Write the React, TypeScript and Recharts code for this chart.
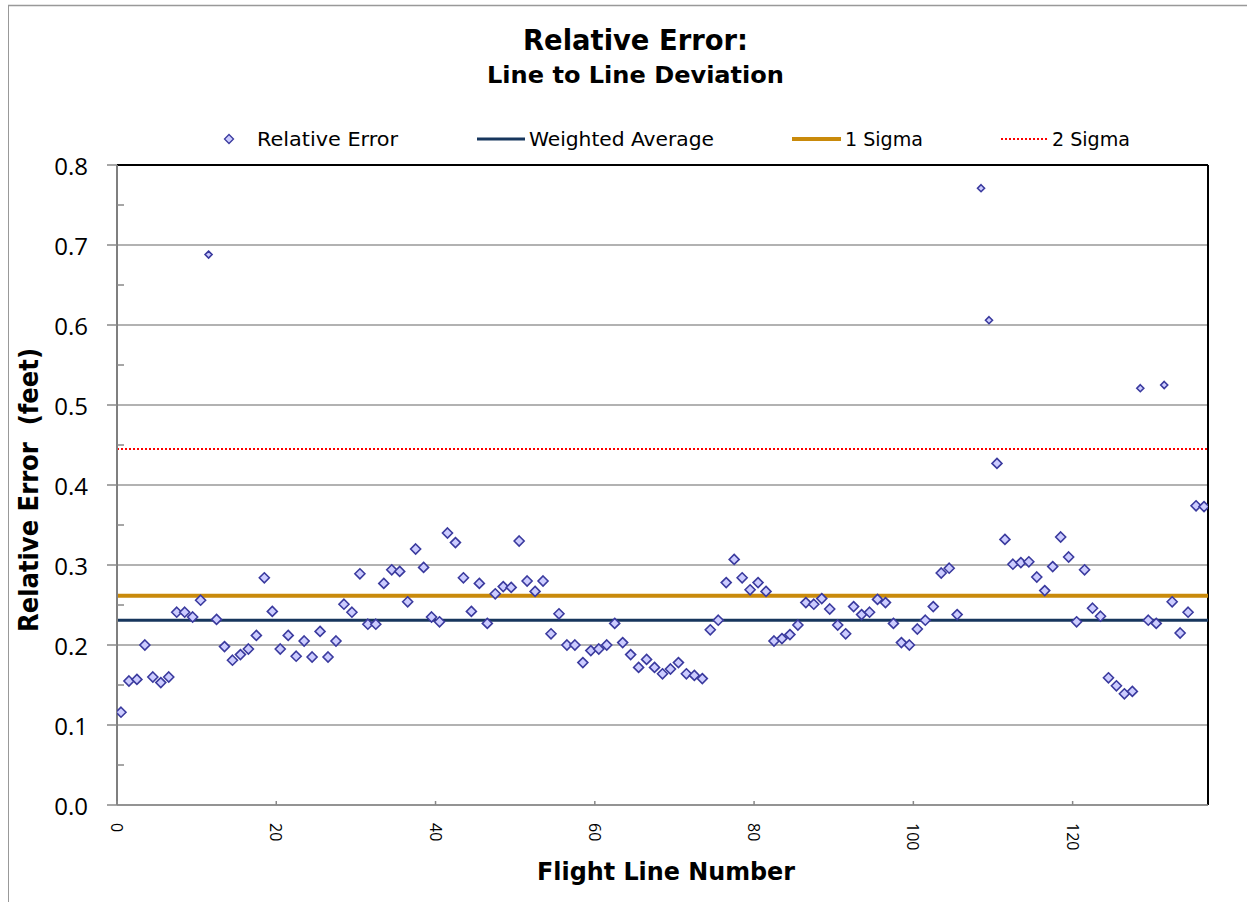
import React from "react";
import { ScatterChart, Scatter, XAxis, YAxis, CartesianGrid, ReferenceLine } from "recharts";

// flight line numbers (106 and 107 have no value)
const flightLines = [
  0, 1, 2, 3, 4, 5, 6, 7, 8, 9, 10, 11, 12, 13, 14, 15, 16, 17, 18, 19,
  20, 21, 22, 23, 24, 25, 26, 27, 28, 29, 30, 31, 32, 33, 34, 35, 36, 37, 38, 39,
  40, 41, 42, 43, 44, 45, 46, 47, 48, 49, 50, 51, 52, 53, 54, 55, 56, 57, 58, 59,
  60, 61, 62, 63, 64, 65, 66, 67, 68, 69, 70, 71, 72, 73, 74, 75, 76, 77, 78, 79,
  80, 81, 82, 83, 84, 85, 86, 87, 88, 89, 90, 91, 92, 93, 94, 95, 96, 97, 98, 99,
  100, 101, 102, 103, 104, 105, 108, 109, 110, 111, 112, 113, 114, 115, 116, 117, 118, 119,
  120, 121, 122, 123, 124, 125, 126, 127, 128, 129, 130, 131, 132, 133, 134, 135, 136,
];

const relativeError = [
  0.116, 0.155, 0.157, 0.2, 0.16, 0.153, 0.16, 0.241, 0.241, 0.235, 0.256, 0.688, 0.232, 0.198, 0.181, 0.188, 0.195, 0.212, 0.284, 0.242,
  0.195, 0.212, 0.186, 0.205, 0.185, 0.217, 0.185, 0.205, 0.251, 0.241, 0.289, 0.226, 0.226, 0.277, 0.294, 0.292, 0.254, 0.32, 0.297, 0.235,
  0.229, 0.34, 0.328, 0.284, 0.242, 0.277, 0.227, 0.264, 0.273, 0.272, 0.33, 0.28, 0.267, 0.28, 0.214, 0.239, 0.2, 0.2, 0.178, 0.193,
  0.195, 0.2, 0.227, 0.203, 0.188, 0.172, 0.182, 0.172, 0.164, 0.17, 0.178, 0.164, 0.162, 0.158, 0.219, 0.231, 0.278, 0.307, 0.284, 0.269,
  0.278, 0.267, 0.205, 0.208, 0.213, 0.225, 0.253, 0.251, 0.258, 0.245, 0.225, 0.214, 0.248, 0.238, 0.241, 0.257, 0.253, 0.227, 0.203, 0.2,
  0.22, 0.231, 0.248, 0.29, 0.296, 0.238, 0.771, 0.606, 0.427, 0.332, 0.301, 0.303, 0.304, 0.285, 0.268, 0.298, 0.335, 0.31,
  0.229, 0.294, 0.246, 0.236, 0.159, 0.149, 0.139, 0.142, 0.521, 0.231, 0.227, 0.525, 0.254, 0.215, 0.241, 0.374, 0.373,
];

// outliers drawn with a smaller marker
const outlierLines = [11, 108, 109, 128, 131];

const weightedAverage = 0.231;
const oneSigma = 0.2615;
const twoSigma = 0.445;

const xTicks = [0, 20, 40, 60, 80, 100, 120];
const yMajorTicks = [0, 0.1, 0.2, 0.3, 0.4, 0.5, 0.6, 0.7, 0.8];
const yMinorTicks = [0.05, 0.15, 0.25, 0.35, 0.45, 0.55, 0.65, 0.75];

const points = flightLines.map((line, i) => ({ line, y: relativeError[i] }));
const mainPoints = points.filter((p) => !outlierLines.includes(p.line));
const smallPoints = points.filter((p) => outlierLines.includes(p.line));

// excel category axis: each flight line sits in the middle of its slot
const slotCentre = (p: any) => p.line + 0.5;

const tickFont = "'Open Sans', sans-serif";
const labelFont = "'Liberation Sans Narrow', 'DejaVu Sans Condensed', 'DejaVu Sans', sans-serif";

const Diamond = (r: number) => (props: any) => {
  const { cx, cy } = props;
  if (cx == null || cy == null) return <g />;
  return (
    <path
      d={`M${cx},${cy - r}L${cx + r},${cy}L${cx},${cy + r}L${cx - r},${cy}Z`}
      fill="#ccccff"
      stroke="#3a3a9e"
      strokeWidth={1.6}
    />
  );
};

const YTick = (props: any) => {
  const { x, y, payload } = props;
  const v = payload.value as number;
  if (yMajorTicks.some((t) => Math.abs(t - v) < 1e-6)) {
    return (
      <g>
        <line x1={x - 10} x2={x} y1={y} y2={y} stroke="#888" strokeWidth={1.5} />
        <text x={x - 29} y={y} textAnchor="end" dominantBaseline="central" fontFamily={tickFont} fontSize={24} fill="#000">
          {v.toFixed(1)}
        </text>
      </g>
    );
  }
  return <line x1={x} x2={x + 7} y1={y} y2={y} stroke="#888" strokeWidth={1.5} />;
};

const XTick = (props: any) => {
  const { x, y, payload } = props;
  return (
    <g>
      <line x1={x} x2={x} y1={y} y2={y - 4} stroke="#888" strokeWidth={1.5} />
      <text
        x={x}
        y={y + 18}
        transform={`rotate(90, ${x}, ${y + 18})`}
        textAnchor="start"
        dominantBaseline="central"
        fontFamily={tickFont}
        fontSize={16}
        fill="#000"
      >
        {payload.value}
      </text>
    </g>
  );
};

export default function App() {
  return (
    <div style={{ position: "absolute", left: 0, top: 0, width: 1247, height: 902, background: "#fff", overflow: "hidden" }}>
      <ScatterChart width={1247} height={902} margin={{ top: 165, right: 39, bottom: 37, left: 0 }}>
        <CartesianGrid horizontal vertical={false} horizontalValues={yMajorTicks} stroke="#999" strokeWidth={1.5} />
        <XAxis
          type="number"
          dataKey={slotCentre}
          domain={[0, 137]}
          ticks={xTicks}
          interval={0}
          allowDataOverflow
          height={60}
          tickSize={0}
          tickMargin={0}
          tick={<XTick />}
          axisLine={{ stroke: "#888", strokeWidth: 1.5 }}
        />
        <YAxis
          type="number"
          dataKey="y"
          domain={[0, 0.8]}
          ticks={[...yMajorTicks, ...yMinorTicks].sort((a, b) => a - b)}
          interval={0}
          allowDataOverflow
          width={117}
          tickSize={0}
          tickMargin={0}
          tick={<YTick />}
          axisLine={{ stroke: "#7f7f7f", strokeWidth: 2 }}
        />
        <ReferenceLine y={0.8} stroke="#000" strokeWidth={2} />
        <ReferenceLine x={137} stroke="#000" strokeWidth={2} />
        <ReferenceLine y={twoSigma} stroke="#ff0000" strokeWidth={2} strokeDasharray="2 2" />
        <ReferenceLine y={oneSigma} stroke="#c98a0b" strokeWidth={4} />
        <ReferenceLine y={weightedAverage} stroke="#17365d" strokeWidth={3} />
        <Scatter data={mainPoints} shape={Diamond(5)} isAnimationActive={false} />
        <Scatter data={smallPoints} shape={Diamond(3.5)} isAnimationActive={false} />
      </ScatterChart>
      <svg width={1247} height={902} style={{ position: "absolute", left: 0, top: 0, pointerEvents: "none" }}>
        <line x1={8.5} x2={8.5} y1={5} y2={902} stroke="#999" strokeWidth={1} />
        <line x1={8} x2={1247} y1={5.5} y2={5.5} stroke="#999" strokeWidth={1.5} />
        <text x={523} y={50} fontFamily={labelFont} fontWeight="bold" fontSize={29} textLength={225} lengthAdjust="spacingAndGlyphs">
          Relative Error:
        </text>
        <text x={487} y={83} fontFamily={labelFont} fontWeight="bold" fontSize={23} textLength={297} lengthAdjust="spacingAndGlyphs">
          Line to Line Deviation
        </text>
        <path d="M229,134.5L233.5,139L229,143.5L224.5,139Z" fill="#ccccff" stroke="#3a3a9e" strokeWidth={1.3} />
        <text x={257} y={146} fontFamily={labelFont} fontSize={19} textLength={141} lengthAdjust="spacingAndGlyphs">
          Relative Error
        </text>
        <line x1={477} x2={525} y1={139} y2={139} stroke="#17365d" strokeWidth={3} />
        <text x={529} y={146} fontFamily={labelFont} fontSize={19} textLength={185} lengthAdjust="spacingAndGlyphs">
          Weighted Average
        </text>
        <line x1={792} x2={841} y1={139} y2={139} stroke="#c98a0b" strokeWidth={4} />
        <text x={845} y={146} fontFamily={labelFont} fontSize={19} textLength={78} lengthAdjust="spacingAndGlyphs">
          1 Sigma
        </text>
        <line x1={1001} x2={1049} y1={139} y2={139} stroke="#ff0000" strokeWidth={2} strokeDasharray="2 2" />
        <text x={1052} y={146} fontFamily={labelFont} fontSize={19} textLength={78} lengthAdjust="spacingAndGlyphs">
          2 Sigma
        </text>
        <text x={537} y={880} fontFamily={labelFont} fontWeight="bold" fontSize={25} textLength={258} lengthAdjust="spacingAndGlyphs">
          Flight Line Number
        </text>
        <text
          x={38}
          y={632}
          transform="rotate(-90, 38, 632)"
          fontFamily={labelFont}
          fontWeight="bold"
          fontSize={26}
          textLength={284}
          lengthAdjust="spacingAndGlyphs"
          style={{ whiteSpace: "pre" }}
        >
          Relative Error  (feet)
        </text>
      </svg>
    </div>
  );
}
